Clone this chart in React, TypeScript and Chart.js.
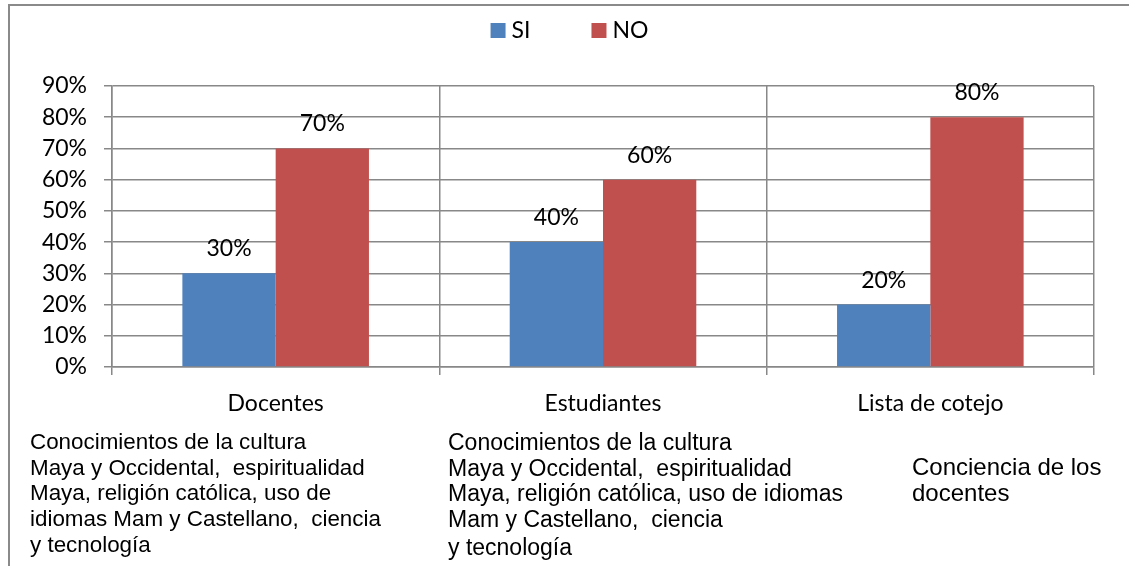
import React, { useEffect, useRef } from "react";
import { Chart, registerables } from "chart.js";

Chart.register(...registerables);

const categories = ["Docentes", "Estudiantes", "Lista de cotejo"];
const seriesNames = ["SI", "NO"];
const siValues = [30, 40, 20];
const noValues = [70, 60, 80];
const seriesColors = ["#4F81BD", "#C0504D"];
const yMax = 90;
const yStep = 10;

const noteDocentes = [
  "Conocimientos de la cultura",
  "Maya y Occidental,  espiritualidad",
  "Maya, religión católica, uso de",
  "idiomas Mam y Castellano,  ciencia",
  "y tecnología",
];
const noteEstudiantes = [
  "Conocimientos de la cultura",
  "Maya y Occidental,  espiritualidad",
  "Maya, religión católica, uso de idiomas",
  "Mam y Castellano,  ciencia",
  "y tecnología",
];
const noteLista = ["Conciencia de los", "docentes"];

const FONT = "Lato";
const GRID = "#888888";

const legendPlugin = {
  id: "customLegend",
  afterDraw(chart: any) {
    const ctx = chart.ctx;
    ctx.save();
    ctx.font = `23px ${FONT}`;
    const box = 15;
    const gapText = 6;
    const gapItem = 61;
    const items = chart.data.datasets.map((d: any) => ({ text: d.label, color: d.backgroundColor }));
    const widths = items.map((it: any) => box + gapText + ctx.measureText(it.text).width);
    const total = widths.reduce((a: number, b: number) => a + b, 0) + gapItem * (items.length - 1);
    let x = chart.width / 2 + 5 - total / 2;
    items.forEach((it: any, i: number) => {
      ctx.fillStyle = it.color;
      ctx.fillRect(x, 23, box, 15);
      ctx.fillStyle = "#000";
      ctx.textBaseline = "alphabetic";
      ctx.textAlign = "left";
      ctx.fillText(it.text, x + box + gapText, 38);
      x += widths[i] + gapItem;
    });
    ctx.restore();
  },
};

const valueLabelPlugin = {
  id: "valueLabels",
  afterDatasetsDraw(chart: any) {
    const ctx = chart.ctx;
    ctx.save();
    ctx.font = `23px ${FONT}`;
    ctx.fillStyle = "#000";
    ctx.textAlign = "center";
    ctx.textBaseline = "alphabetic";
    chart.data.datasets.forEach((ds: any, di: number) => {
      const meta = chart.getDatasetMeta(di);
      meta.data.forEach((bar: any, i: number) => {
        ctx.fillText(`${ds.data[i]}%`, bar.x, bar.y - 17);
      });
    });
    ctx.restore();
  },
};

export default function App() {
  const ref = useRef<HTMLCanvasElement | null>(null);

  useEffect(() => {
    if (!ref.current) return;
    const chart = new Chart(ref.current, {
      type: "bar",
      data: {
        labels: categories,
        datasets: [
          { label: seriesNames[0], data: siValues, backgroundColor: seriesColors[0], borderWidth: 0 },
          { label: seriesNames[1], data: noValues, backgroundColor: seriesColors[1], borderWidth: 0 },
        ],
      },
      options: {
        responsive: false,
        animation: false,
        devicePixelRatio: 1,
        layout: { padding: { top: 86, right: 35, left: 0, bottom: 0 } },
        datasets: { bar: { categoryPercentage: 0.57, barPercentage: 1 } },
        plugins: {
          legend: { display: false },
          tooltip: { enabled: false },
        },
        scales: {
          x: {
            offset: true,
            grid: { offset: true, color: GRID, lineWidth: 1.5, tickLength: 8, drawTicks: true },
            border: { color: GRID, width: 1.5 },
            ticks: { color: "#000", font: { family: FONT, size: 23 }, padding: 15, maxRotation: 0 },
            afterFit: (s: any) => {
              s.height = 199;
            },
          },
          y: {
            min: 0,
            max: yMax,
            grid: { color: GRID, lineWidth: 1.5, tickLength: 8, drawTicks: true },
            border: { color: GRID, width: 1.5 },
            ticks: {
              stepSize: yStep,
              color: "#000",
              font: { family: FONT, size: 23 },
              padding: 17,
              callback: (v: any) => `${v}%`,
            },
            afterFit: (s: any) => {
              s.width = 112;
            },
          },
        },
      },
      plugins: [legendPlugin, valueLabelPlugin],
    });
    return () => chart.destroy();
  }, []);

  const noteStyle: React.CSSProperties = {
    position: "absolute",
    fontFamily: '"Liberation Sans", Arial, sans-serif',
    fontSize: "23px",
    lineHeight: "25.7px",
    color: "#000",
    whiteSpace: "pre",
  };

  return (
    <div
      style={{
        position: "absolute",
        left: 0,
        top: 0,
        width: 1129,
        height: 566,
        overflow: "hidden",
        background: "#fff",
      }}
    >
      <div
        style={{
          position: "absolute",
          left: 8,
          top: 4,
          width: 1300,
          height: 800,
          border: "2px solid #8a8a8a",
          boxSizing: "border-box",
        }}
      />
      <canvas
        ref={ref}
        width={1129}
        height={566}
        style={{ position: "absolute", left: 0, top: 0, width: 1129, height: 566 }}
      />
      <div style={{ ...noteStyle, fontSize: "22.4px", left: 30, top: 429 }}>
        {noteDocentes.map((l, i) => (
          <div key={i}>{l}</div>
        ))}
      </div>
      <div style={{ ...noteStyle, left: 448, top: 430 }}>
        {noteEstudiantes.map((l, i) => (
          <div key={i} style={{ marginTop: i === noteEstudiantes.length - 1 ? 2 : 0 }}>
            {l}
          </div>
        ))}
      </div>
      <div style={{ ...noteStyle, fontSize: "24px", left: 912, top: 454 }}>
        {noteLista.map((l, i) => (
          <div key={i}>{l}</div>
        ))}
      </div>
    </div>
  );
}
